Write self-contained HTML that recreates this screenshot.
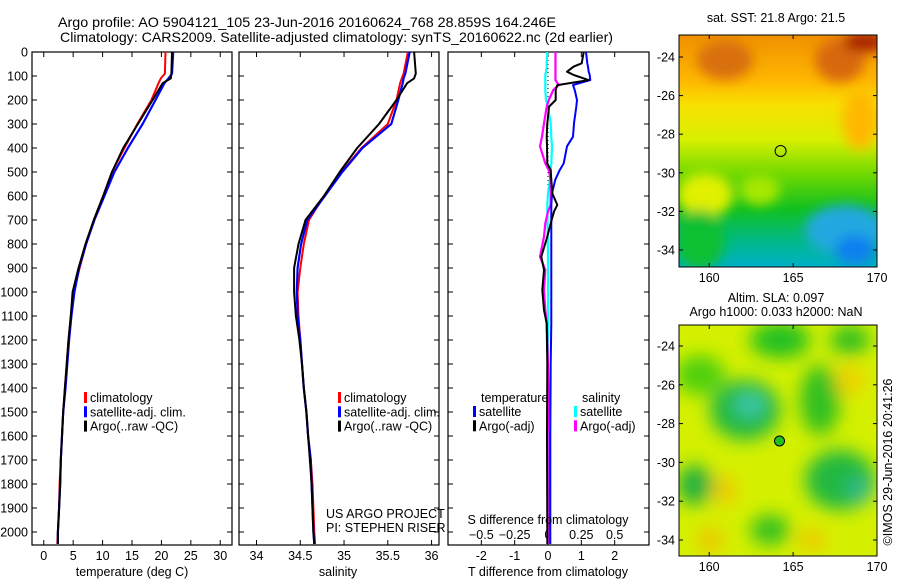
<!DOCTYPE html>
<html><head><meta charset="utf-8"><style>
html,body{margin:0;padding:0;background:#fff;}
svg{display:block;font-family:"Liberation Sans",sans-serif;}
text{font-size:12.5px;fill:#000;}
</style></head><body>
<svg id="fig" width="900" height="580" viewBox="0 0 900 580">
<defs>
<filter id="bl" x="-50%" y="-50%" width="200%" height="200%"><feGaussianBlur stdDeviation="9"/></filter>
<filter id="bl2" x="-50%" y="-50%" width="200%" height="200%"><feGaussianBlur stdDeviation="6"/></filter>
<clipPath id="m1c"><rect x="679" y="35" width="198" height="232"/></clipPath>
<clipPath id="m2c"><rect x="679" y="325" width="198" height="231"/></clipPath>
<linearGradient id="sstg" x1="0" y1="0" x2="0" y2="1">
<stop offset="0" stop-color="#f09000"/><stop offset="0.2" stop-color="#ffb800"/><stop offset="0.3" stop-color="#f8e000"/>
<stop offset="0.45" stop-color="#d8f000"/><stop offset="0.6" stop-color="#70d800"/><stop offset="0.75" stop-color="#10c020"/>
<stop offset="0.9" stop-color="#00b890"/><stop offset="1" stop-color="#00b0c8"/></linearGradient>
</defs>
<text x="58" y="27" style="font-size:14px" textLength="498" lengthAdjust="spacingAndGlyphs">Argo profile: AO 5904121_105 23-Jun-2016 20160624_768 28.859S 164.246E</text>
<text x="60" y="42" style="font-size:14px" textLength="553" lengthAdjust="spacingAndGlyphs">Climatology: CARS2009. Satellite-adjusted climatology: synTS_20160622.nc (2d earlier)</text>

<!-- SST map -->
<g>
<g clip-path="url(#m1c)">
<rect x="679" y="35" width="198" height="232" fill="url(#sstg)"/>
<g filter="url(#bl2)">
<ellipse cx="725" cy="60" rx="28" ry="20" fill="#d87010"/>
<ellipse cx="840" cy="60" rx="25" ry="22" fill="#d86810"/>
<ellipse cx="865" cy="42" rx="22" ry="10" fill="#a82000"/>
<ellipse cx="860" cy="120" rx="18" ry="30" fill="#ffb800"/>
<ellipse cx="705" cy="195" rx="28" ry="22" fill="#e0f000"/>
<ellipse cx="760" cy="190" rx="20" ry="15" fill="#a8e800"/>
<ellipse cx="845" cy="230" rx="40" ry="25" fill="#20a8e0"/>
<ellipse cx="855" cy="250" rx="20" ry="15" fill="#1080f0"/>
<ellipse cx="700" cy="240" rx="25" ry="30" fill="#10c030"/>
</g></g>
<rect x="679" y="35" width="198" height="232" fill="none" stroke="#000"/>
<circle cx="780.6" cy="151" r="5.5" fill="none" stroke="#000"/>
<text x="776" y="22" text-anchor="middle">sat. SST: 21.8 Argo: 21.5</text>
</g>
<!-- SLA map -->
<g>
<g clip-path="url(#m2c)">
<rect x="679" y="325" width="198" height="231" fill="#d4f000"/>
<g filter="url(#bl)">
<ellipse cx="780" cy="340" rx="30" ry="18" fill="#20c020"/>
<ellipse cx="850" cy="340" rx="20" ry="15" fill="#30c020"/>
<ellipse cx="745" cy="410" rx="35" ry="30" fill="#20b840"/>
<ellipse cx="750" cy="405" rx="15" ry="12" fill="#40c8b0"/>
<ellipse cx="700" cy="375" rx="25" ry="20" fill="#50d010"/>
<ellipse cx="820" cy="400" rx="20" ry="35" fill="#30c020"/>
<ellipse cx="840" cy="480" rx="35" ry="30" fill="#20b840"/>
<ellipse cx="860" cy="490" rx="14" ry="12" fill="#30b890"/>
<ellipse cx="695" cy="485" rx="18" ry="20" fill="#20b040"/>
<ellipse cx="770" cy="530" rx="20" ry="15" fill="#30c020"/>
<ellipse cx="710" cy="540" rx="12" ry="12" fill="#f0c000"/>
<ellipse cx="725" cy="490" rx="12" ry="15" fill="#f0c800"/>
<ellipse cx="812" cy="540" rx="15" ry="10" fill="#f0c800"/>
<ellipse cx="850" cy="380" rx="15" ry="15" fill="#f0d000"/>
</g></g>
<rect x="679" y="325" width="198" height="231" fill="none" stroke="#000"/>
<circle cx="779.5" cy="441" r="5" fill="#20c020" stroke="#000"/>
<text x="776" y="302" text-anchor="middle">Altim. SLA: 0.097</text>
<text x="776" y="316" text-anchor="middle">Argo h1000: 0.033 h2000: NaN</text>
</g>
<text transform="translate(892,462) rotate(-90)" text-anchor="middle">©IMOS 29-Jun-2016 20:41:26</text>
<g id="plots"></g>
</svg>
<script>
// ---- data ----
const depthT = [0,90,110,130,200,300,400,500,600,700,800,900,1000,1100,1200,1300,1400,1500,1600,1700,1800,1900,2000,2050];
const tempClim = [20.7,20.6,19.9,19.5,18.3,15.9,13.7,11.6,10.1,8.5,7.2,6.1,5.1,4.6,4.2,3.9,3.6,3.3,3.1,2.9,2.7,2.6,2.4,2.3];
const tempSat  = [22.0,21.8,21.2,20.5,19.0,16.8,14.3,12.0,10.3,8.6,7.2,6.0,5.2,4.7,4.3,4.0,3.7,3.3,3.1,2.9,2.8,2.6,2.4,2.4];
const tempArgo = [21.8,21.7,21.6,20.2,18.5,16.0,13.5,11.6,10.1,8.5,7.1,5.9,4.9,4.6,4.2,3.9,3.6,3.3,3.1,2.9,2.8,2.6,2.4,2.4];
const salClim = [35.73,35.68,35.66,35.64,35.60,35.50,35.20,34.97,34.77,34.60,34.54,34.50,34.47,34.48,34.50,34.52,34.54,34.57,34.59,34.62,34.64,34.65,34.66,34.67];
const salSat  = [35.75,35.70,35.68,35.67,35.62,35.54,35.21,34.98,34.78,34.58,34.51,34.47,34.46,34.47,34.50,34.52,34.54,34.57,34.59,34.62,34.63,34.64,34.65,34.66];
const salArgo = [35.80,35.82,35.80,35.72,35.60,35.40,35.15,34.95,34.77,34.56,34.48,34.43,34.43,34.45,34.49,34.52,34.54,34.57,34.59,34.61,34.63,34.64,34.65,34.66];
const depthD = [0,47,61,82,96,117,138,158,200,228,297,353,393,464,492,532,589,637,665,714,769,853,908,992,1075,1131,1300,1600,2000,2050];
const dTSat  = [1.14,1.18,1.2,1.22,1.25,1.27,0.75,0.8,0.87,0.85,0.78,0.75,0.57,0.47,0.35,0.22,0.12,0.1,0.1,0.1,0.1,0.1,0.1,0.1,0.1,0.1,0.08,0.07,0.07,0.07];
const dTArgo = [1.07,1.01,0.77,0.57,0.77,1.22,0.28,0.23,0.23,0.03,-0.02,-0.04,-0.03,-0.02,0.08,0.1,0.13,0.28,0.18,0.08,-0.02,-0.2,-0.12,-0.17,-0.12,-0.04,-0.02,-0.03,-0.02,-0.02];
const dSSat  = [-0.006,-0.01,-0.01,-0.015,-0.02,-0.02,-0.02,-0.02,-0.015,0.0,0.02,0.025,0.03,0.025,0.02,0.015,0.0,-0.005,-0.005,-0.003,-0.002,0.0,0.0,0.0,0.0,0.0,0.0,0.0,0.0,0.0];
const dSArgo = [0.056,0.056,0.056,0.056,0.056,0.056,0.08,0.04,0.006,-0.01,-0.03,-0.045,-0.06,-0.02,0.006,0.02,0.02,0.02,0.0,-0.02,-0.03,-0.06,-0.02,-0.03,-0.02,-0.01,0.0,0.01,0.01,0.01];
const depthTicks = [0,100,200,300,400,500,600,700,800,900,1000,1100,1200,1300,1400,1500,1600,1700,1800,1900,2000];
const tempTicks = [0,5,10,15,20,25,30];
const salTicks = [34,34.5,35,35.5,36];
const tDiffTicks = [-2,-1,0,1,2];
const sDiffTicks = [-0.5,-0.25,0,0.25,0.5];
// ---- scales ----
const TOP=52, BOT=545;
const yD = d => TOP + d*0.24;
const xT = t => 32 + (t+2)*200/34;
const xS = s => 239 + (s-33.8)*200/2.285;
const xDT = t => 448 + (t+3)*200/6;
const xDS = s => xDT(s*4);
const NS='http://www.w3.org/2000/svg';
const root=document.getElementById('plots');
function mk(tag, attrs, parent){const e=document.createElementNS(NS,tag);for(const k in attrs)e.setAttribute(k,attrs[k]);(parent||root).appendChild(e);return e;}
function txt(x,y,s,anchor,parent){const e=mk('text',{x:x,y:y,'text-anchor':anchor||'start'},parent);e.textContent=s;return e;}
function line(xs,ds,fx,color,w,name,parent){
  const pts=xs.map((v,i)=>fx(v).toFixed(1)+','+yD(ds[i]).toFixed(1)).join(' ');
  const p=mk('polyline',{points:pts,fill:'none',stroke:color,'stroke-width':w,'stroke-linejoin':'round'},parent);
  
  
  return p;
}
function panel(x0,x1,name){
  const g=mk('g',{});
  
  
  mk('rect',{x:x0,y:TOP,width:x1-x0,height:BOT-TOP,fill:'none',stroke:'#000','stroke-width':1.2},g);
  depthTicks.forEach(d=>{mk('line',{x1:x0,x2:x0+5,y1:yD(d),y2:yD(d),stroke:'#000'},g);mk('line',{x1:x1,x2:x1-5,y1:yD(d),y2:yD(d),stroke:'#000'},g);});
  return g;
}
function xticks(g,ticks,fx,labelY,fmt){
  ticks.forEach(t=>{const x=fx(t);mk('line',{x1:x,x2:x,y1:TOP,y2:TOP+5,stroke:'#000'},g);mk('line',{x1:x,x2:x,y1:BOT,y2:BOT-5,stroke:'#000'},g);
    const l=txt(x,labelY,fmt?fmt(t):String(t),'middle',g);
    
    });
}
function legend(g,x,y,items){
  items.forEach((it,i)=>{mk('rect',{x:x,y:y+i*14.3-10,width:3,height:11,fill:it[1]},g);
    const l=txt(x+6,y+i*14.3,it[0],'start',g);
    
    });
}
// panel 1 temperature
const g1=panel(32,232,'temperature-panel');
depthTicks.forEach(d=>{const l=txt(28,yD(d)+4.5,String(d),'end',g1);
  
  });
xticks(g1,tempTicks,xT,560);
const xl1=txt(132,576,'temperature (deg C)','middle',g1);


line(tempClim,depthT,xT,'#ff0000',2,'temperature-climatology-line',g1);
line(tempSat,depthT,xT,'#0000ff',2.2,'temperature-satellite-line',g1);
line(tempArgo,depthT,xT,'#000000',2,'temperature-argo-line',g1);
legend(g1,84,402,[['climatology','#ff0000'],['satellite-adj. clim.','#0000ff'],['Argo(..raw -QC)','#000000']]);
// panel 2 salinity
const g2=panel(239,439,'salinity-panel');
xticks(g2,salTicks,xS,560);
const xl2=txt(338,576,'salinity','middle',g2);


line(salClim,depthT,xS,'#ff0000',2,'salinity-climatology-line',g2);
line(salSat,depthT,xS,'#0000ff',2.2,'salinity-satellite-line',g2);
line(salArgo,depthT,xS,'#000000',2,'salinity-argo-line',g2);
legend(g2,338,402,[['climatology','#ff0000'],['satellite-adj. clim.','#0000ff'],['Argo(..raw -QC)','#000000']]);
txt(326,518,'US ARGO PROJECT','start',g2);
txt(326,532,'PI: STEPHEN RISER','start',g2);
// panel 3 differences
const g3=panel(448,649,'difference-panel');
xticks(g3,tDiffTicks,xDT,560);
sDiffTicks.forEach(s=>{const l=txt(xDS(s),539,String(s).replace('-','−'),'middle',g3);
  
  });
mk('line',{x1:xDT(0),x2:xDT(0),y1:TOP,y2:BOT,stroke:'#000','stroke-dasharray':'1,3'},g3);
line(dSSat,depthD,xDS,'#00ffff',2.2,'salinity-satellite-diff-line',g3);
line(dSArgo,depthD,xDS,'#ff00ff',2.2,'salinity-argo-diff-line',g3);
line(dTSat,depthD,xDT,'#0000ff',2,'temperature-satellite-diff-line',g3);
line(dTArgo,depthD,xDT,'#000000',2,'temperature-argo-diff-line',g3);
txt(481,402,'temperature','start',g3);
txt(582,402,'salinity','start',g3);
legend(g3,473,416,[['satellite','#0000ff'],['Argo(-adj)','#000000']]);
legend(g3,574,416,[['satellite','#00ffff'],['Argo(-adj)','#ff00ff']]);
txt(548,524,'S difference from climatology','middle',g3);
const xl3=txt(548,576,'T difference from climatology','middle',g3);


// map axes
const lonTicks=[160,165,170], latTicks=[-24,-26,-28,-30,-32,-34];
const xLon = lo => 679 + (lo-158.2)*198/11.8;
const yLat1 = la => 57 + (-24-la)*19.3;
const yLat2 = la => 346 + (-24-la)*19.4;
[[yLat1,35,267,282],[yLat2,325,556,571]].forEach(([fy,t,b,ly])=>{
  lonTicks.forEach(lo=>{const x=xLon(lo);mk('line',{x1:x,x2:x,y1:t,y2:t+4,stroke:'#000'});mk('line',{x1:x,x2:x,y1:b,y2:b-4,stroke:'#000'});
    const l=txt(x,ly,String(lo),'middle');
    
    });
  latTicks.forEach(la=>{const y=fy(la);mk('line',{x1:679,x2:683,y1:y,y2:y,stroke:'#000'});mk('line',{x1:877,x2:873,y1:y,y2:y,stroke:'#000'});
    const l=txt(675,y+4.5,String(la),'end');
    
    });
});
</script>
</body></html>
